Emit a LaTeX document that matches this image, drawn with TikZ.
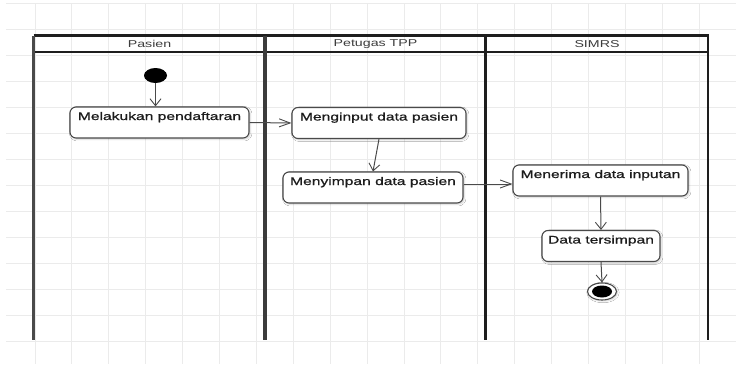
\documentclass[tikz,border=0pt]{standalone}
\usepackage{fontspec}
\usetikzlibrary{arrows.meta,shapes.geometric,calc,shadows.blur}
\newfontfamily\diagfont[FakeStretch=1.42]{Liberation Sans}
\newfontfamily\boxfont[FakeStretch=1.42,FakeBold=0.9]{Liberation Sans}
\definecolor{gridc}{HTML}{EBEBEB}
\definecolor{linec}{HTML}{4A4A4A}
\definecolor{lanec}{HTML}{1E1E1E}
\definecolor{txtc}{HTML}{1C1C1C}
\definecolor{headc}{HTML}{3C3C3C}
\begin{document}
\begin{tikzpicture}[x=1pt,y=-1pt,
  actbox/.style={draw=linec, line width=1.1pt, rounded corners=6pt, fill=white,
    inner sep=3pt, text height=10pt, text depth=15pt, font=\boxfont\fontsize{11}{13}\selectfont,
    text=txtc, blur shadow={shadow xshift=1.2pt, shadow yshift=-1.2pt, shadow blur steps=4, shadow opacity=20}},
  lanetitle/.style={font=\diagfont\fontsize{10}{12}\selectfont, text=headc, inner sep=0pt},
  flowh/.style={draw=linec, line width=1pt, -{Straight Barb[length=11pt,width=8pt,line width=0.9pt]}},
  flowv/.style={draw=linec, line width=1pt, -{Straight Barb[length=7pt,width=11pt,line width=0.9pt]}},
  lane/.style={draw=lanec, line width=2.2pt}]

% page and background grid
\useasboundingbox (0,0) rectangle (736,364);
\fill[white] (0,0) rectangle (736,364);
\foreach \k in {0,...,13}
  \draw[gridc, line width=0.9pt] (6,{3.3+26*\k}) -- (736,{3.3+26*\k});
\foreach \k in {0,...,18}
  \draw[gridc, line width=0.9pt] ({35+36.9*\k},3.3) -- ({35+36.9*\k},364);

% swimlane frame
\draw[lane] (33.5,35.5) -- (708,35.5);
\draw[lane] (33.5,51.7) -- (708,51.7);
\draw[lane, draw=linec, line width=3pt] (33.5,35.5) -- (33.5,340);
\draw[lane, draw=headc, line width=4.5pt] (265,35.5) -- (265,340);
\draw[lane, line width=2.8pt] (485.5,35.5) -- (485.5,340);
\draw[lane] (708,34.4) -- (708,340);

\node[lanetitle] (tpasien) at (149.5,43.6) {Pasien};
\node[lanetitle] (ttpp) at (375.5,43.6) {Petugas TPP};
\node[lanetitle] (tsimrs) at (597,43.6) {SIMRS};

% activities
\node[ellipse, fill=black, minimum width=23pt, minimum height=15pt, inner sep=0pt] (start) at (155.5,75.5) {};
\node[actbox, minimum width=179pt] (daftar) at (159.5,122.5) {Melakukan pendaftaran};
\node[actbox, minimum width=174pt] (input) at (379,123) {Menginput data pasien};
\node[actbox, minimum width=180pt] (simpan) at (373,187.5) {Menyimpan data pasien};
\node[actbox, minimum width=175pt] (terima) at (600.5,180.5) {Menerima data inputan};
\node[actbox, minimum width=118pt] (tersimpan) at (601,246) {Data tersimpan};
\node[ellipse, draw=linec, line width=1.1pt, fill=white, minimum width=29pt, minimum height=17pt, inner sep=0pt,
  blur shadow={shadow xshift=1pt, shadow yshift=-1pt, shadow blur steps=4, shadow opacity=20}] (final) at (602,291.5) {};
\node[ellipse, fill=black, minimum width=20pt, minimum height=12pt, inner sep=0pt] (finaldot) at (final.center) {};

% control flow
\coordinate (mid) at ($(simpan.east)!0.5!(terima.west)$);
\draw[flowv] (start.south) -- (start.south |- daftar.north);
\draw[flowh] (daftar.east) -- (input.west);
\draw[flowv] (input.south) -- (simpan.north);
\draw[flowh] (simpan.east |- mid) -- (terima.west |- mid);
\draw[flowv] (terima.south) -- (tersimpan.north);
\draw[flowv] (tersimpan.south) -- (final.north);
\end{tikzpicture}
\end{document}
